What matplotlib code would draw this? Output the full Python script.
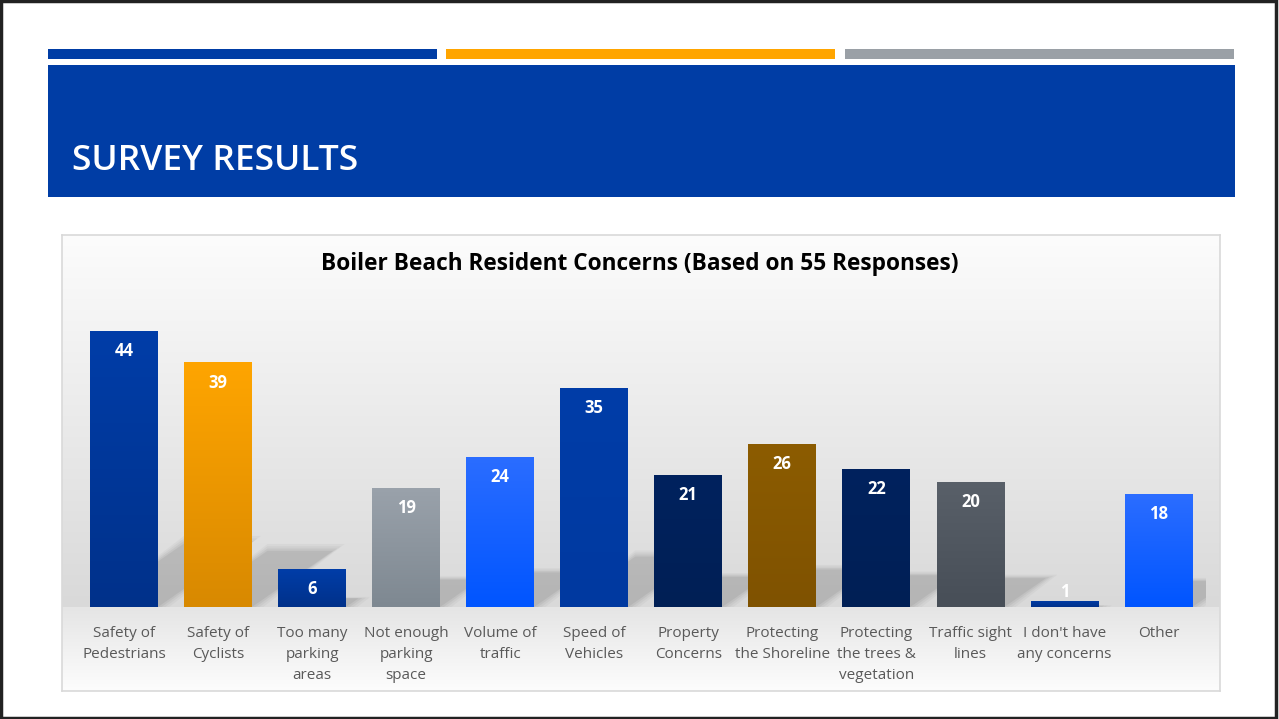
import numpy as np
import matplotlib
matplotlib.use("Agg")
import matplotlib.pyplot as plt
from matplotlib.patches import Rectangle, Polygon
from matplotlib.colors import to_rgb

plt.rcParams['font.family'] = ['Open Sans', 'DejaVu Sans']

# survey data
categories = ["Safety of\nPedestrians", "Safety of\nCyclists", "Too many\nparking\nareas",
              "Not enough\nparking\nspace", "Volume of\ntraffic", "Speed of\nVehicles",
              "Property\nConcerns", "Protecting\nthe Shoreline", "Protecting\nthe trees &\nvegetation",
              "Traffic sight\nlines", "I don't have\nany concerns", "Other"]
counts = [44, 39, 6, 19, 24, 35, 21, 26, 22, 20, 1, 18]
chart_title = "Boiler Beach Resident Concerns (Based on 55 Responses)"

# bar colours, top -> bottom of each gradient
top_cols = ["#003DA8", "#FFA500", "#003DA8", "#9AA2AB", "#2B6DFF", "#003DA8",
            "#00225E", "#8C5C00", "#00225E", "#596069", "#003DA8", "#2B6DFF"]
bot_cols = ["#00318A", "#D88900", "#00318A", "#7E8891", "#0055FF", "#0039A0",
            "#001F55", "#7F5200", "#001F55", "#474E57", "#00318A", "#0055FF"]

W, H = 1279, 719


def px_rect(x0, y0, x1, y1):
    return [x0 / W, 1 - y1 / H, (x1 - x0) / W, (y1 - y0) / H]


def vgrad(c_top, c_bot, n=256):
    a = np.array(to_rgb(c_top))
    b = np.array(to_rgb(c_bot))
    t = np.linspace(0, 1, n)[:, None]
    return (a * (1 - t) + b * t)[:, None, :]


fig = plt.figure(figsize=(W / 100, H / 100), dpi=100)
fig.patch.set_facecolor("white")

# slide frame
fig.patches.append(Rectangle((0.001, 0.002), 0.997, 0.996, transform=fig.transFigure,
                             fill=False, edgecolor="#222222", linewidth=2.5))

# accent strips + header band
for x0, x1, c in [(48, 437, "#003DA5"), (446, 835, "#FFA500"), (845, 1234, "#9AA0A6")]:
    fig.patches.append(Rectangle((x0 / W, 1 - 59 / H), (x1 - x0) / W, 10 / H,
                                 transform=fig.transFigure, color=c, lw=0))
fig.patches.append(Rectangle((48 / W, 1 - 197 / H), (1235 - 48) / W, (197 - 65) / H,
                             transform=fig.transFigure, color="#003DA5", lw=0))
fig.text(72 / W, 1 - 170 / H, "SURVEY RESULTS", color="white", fontsize=25.5,
         fontweight="semibold", ha="left", va="baseline")

# chart panel background: wall + floor
bg = fig.add_axes(px_rect(62, 235, 1220, 691))
bg.set_xlim(0, 1)
bg.set_ylim(691, 235)
wall = vgrad("#FCFCFC", "#D9D9D9")
bg.imshow(wall, extent=(0, 1, 607, 235), aspect="auto", zorder=0)
floor = vgrad("#E5E5E5", "#FDFDFD")
bg.imshow(floor, extent=(0, 1, 691, 607), aspect="auto", zorder=0)
bg.set_xticks([])
bg.set_yticks([])
for s in bg.spines.values():
    s.set_color("#D9D9D9")
    s.set_linewidth(1.2)

# bars
ax = fig.add_axes(px_rect(77, 280, 1205.5, 607))
ax.patch.set_alpha(0)
ymax = (607 - 280) / 6.27
ax.set_xlim(-0.5, 11.5)
ax.set_ylim(0, ymax)
x = np.arange(len(counts))
bw = 0.72

# soft floor shadows behind the bars
for i, v in enumerate(counts):
    hs = 0.23 * v
    dx = 0.0222 * v
    x0, x1 = i - bw / 2, i + bw / 2
    for k, a in enumerate([0.05, 0.06, 0.08, 0.1]):
        g = 0.04 * (3 - k)
        poly = Polygon([(x0 + 0.02, 0), (x1 + g, 0), (x1 + dx + g, hs * (1 + g)),
                        (x0 + dx + 0.02, hs * (1 + g))],
                       closed=True, facecolor="#555555", alpha=a, lw=0, zorder=1)
        ax.add_patch(poly)

bars = ax.bar(x, counts, width=bw, color=top_cols, zorder=3)
for b, ct, cb in zip(bars, top_cols, bot_cols):
    bx, by = b.get_x(), b.get_y()
    im = ax.imshow(vgrad(ct, cb), extent=(bx, bx + b.get_width(), by, by + b.get_height()),
                   aspect="auto", zorder=4)
    im.set_clip_path(b)

# value labels
for i, v in enumerate(counts):
    ax.text(i, max(v - 3.2, 2.4), str(v), ha="center", va="center", color="white",
            fontsize=12, fontweight="bold", zorder=5)

ax.set_xticks(x)
ax.set_xticklabels(categories, fontsize=11, color="#595959", linespacing=1.52)
ax.tick_params(axis="x", length=0, pad=14)
ax.set_yticks([])
for s in ax.spines.values():
    s.set_visible(False)

fig.text(640 / W, 1 - 264 / H, chart_title, ha="center", va="center",
         fontsize=16.3, fontweight="bold", color="black")

fig.savefig("out.png", dpi=100)
